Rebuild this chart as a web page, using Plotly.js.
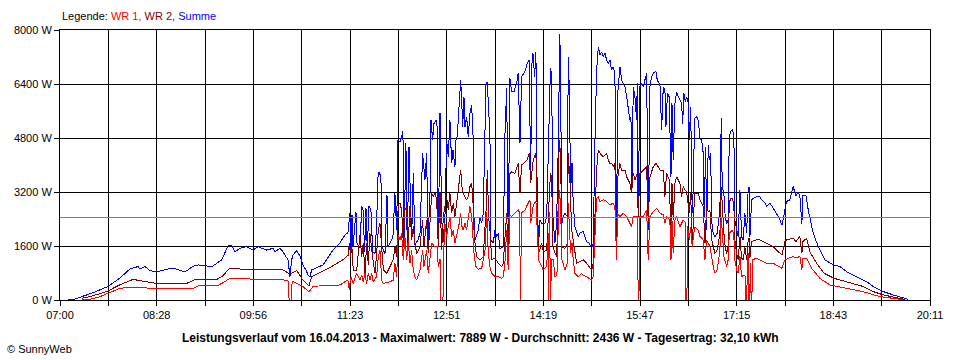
<!DOCTYPE html>
<html><head><meta charset="utf-8">
<script src="https://cdn.plot.ly/plotly-3.0.1.min.js"></script>
<style>html,body{margin:0;padding:0;background:#fff}#chart{width:960px;height:360px}
#chart .scatterlayer path, #chart .shapelayer path{shape-rendering:crispEdges}</style>
</head><body><div id="chart"></div>
<script>
// ---- data (time in minutes after midnight, power in W) ----
const tickLabels = ['07:00','08:28','09:56','11:23','12:51','14:19','15:47','17:15','18:43','20:11'];
const yTicks = [0, 1600, 3200, 4800, 6400, 8000];
const durchschnitt = 2436;

const timeSumme = [
427.3,433.6,439.7,448.8,463.6,474.5,483.6,490.9,492.7,497.3,
501.8,507.9,517,522.7,533.6,540.9,545.5,558.2,567,572.7,
576.1,579.1,583.6,589.7,595.5,600,607.9,613.6,615.5,620,
622.7,624.5,627.3,629.1,630.6,631.8,635.2,638.2,640.9,643.6,
645.5,647.3,648.8,653.6,659.1,668.2,674.5,679.1,681.8,
683.6,684.5,685.5,686.4,689.1,690,692.7,694.3,695.5,697,
698.2,699.4,700.9,702.7,704.3,706.4,707.9,709.1,710,711.8,
712.5,715.5,717.3,718.2,721.5,722.7,724.5,726.1,727.3,729.1,
730.6,731.8,732.7,734.5,735.7,737.3,739.7,741.2,742.7,745.5,
747.3,749.7,751.8,753.4,754.5,756.4,757.3,758.8,760,761.8,
763,763.9,765.5,767,768.2,770,771.5,773,774.5,776.1,
777.3,779.1,780,781.2,783,784.3,785.2,786.1,787.3,788.2,
789.7,791.2,792.7,794.3,795.7,796.4,797.5,800.3,801.8,803.4,
804.8,807.3,808.5,809.7,810.9,811.8,813.9,815.5,817,818.5,
820,823,824.5,826.1,827.5,829.1,830.6,832.7,835.2,836.6,
838.2,839.7,842.7,844.8,846.6,847.9,849.1,850,851.5,852.7,
853.9,855.2,856.4,857.9,860.9,862.5,864.5,865.9,867,868.2,
870,871.5,872.7,873.9,874.5,875.5,876.4,877.5,879.1,881.2,
882.1,883,884.3,885.5,886.6,888.2,891.2,892.7,895.7,898.8,
901.2,903.4,904.8,906.4,907.9,909.4,910.9,912.5,913.9,915.5,
917,918.5,920,921.5,923,924.5,925.5,926.1,926.8,929.1,
930.6,932.1,933.6,935.2,936.6,938.2,939.1,940,941.2,942.7,
944.3,944.8,945.7,947.3,948.8,950.3,951.8,953.4,954.8,956.4,
957.9,959.4,961.8,963,965.5,967,968.5,970,970.9,972.3,
973.9,974.5,975.5,976.4,977.5,979.1,980.6,982.1,983.6,985.2,
986.1,987.3,988.5,989.7,991.2,992.1,993.4,994.8,995.7,997,
998.8,1000.3,1001.8,1003.4,1004.8,1005.7,1007,1007.9,1009.4,1010.3,
1011.5,1012.7,1013.9,1015.5,1017.5,1018.8,1020,1021.2,1022.1,1023.6,
1024.8,1026.1,1027.5,1028.5,1029.7,1031.5,1032.7,1033.6,1035.2,1036.6,
1038.2,1039.7,1041.2,1042.7,1044.3,1045.7,1046.6,1047.3,1048.8,1050.3,
1053.4,1056.4,1057.9,1060.9,1062.5,1065.5,1068.5,1071.5,1073,1074.5,
1076.4,1079.1,1080.6,1083.6,1086.6,1089.1,1090.9,1092.7,1094.5,1095.5,
1098.2,1100.3,1104.8,1109.4,1115.5,1123,1129.1,1135.2,1144.3,1153.4,
1159.4,1168.5,1177.5,1186.6,1191.2];
const summe = [
0,30,100,200,400,650,920,990,920,990,
870,830,910,950,830,1000,1040,990,1190,1600,
1620,1430,1530,1580,1480,1580,1480,1530,1430,1530,
1430,1330,1190,690,1190,1330,1460,1300,1040,890,
740,690,890,960,1040,1480,1690,1930,1990,
2580,1390,2520,1580,2620,1690,1540,2770,2670,1430,
2720,1480,2790,2670,1430,1380,2270,3650,3800,3650,
1580,1380,3110,1580,1780,1880,3170,2070,4740,4690,
4840,4990,1580,4640,1580,4540,1780,3750,1630,1780,
1980,4350,3560,4350,1680,3160,5330,4740,5230,5330,
5130,1630,5530,2470,1690,2470,4740,4250,5330,4050,
4440,3950,4740,4840,5830,6520,5930,5130,6020,5130,
5430,4840,5530,5780,4740,2470,1780,2070,2470,2270,
2570,6370,6470,5630,4840,1780,1680,2070,1880,1980,
1530,1580,4840,6270,1880,6570,6170,6170,6420,6720,
4640,6620,6770,7010,7110,3650,7010,7310,6620,7360,
2870,1680,2370,2270,2270,2470,5040,6870,6670,2470,
1690,2280,4000,7600,7889,5040,2280,2470,2570,2470,
7210,6320,3260,4060,2870,2170,1880,1980,2030,1730,
1680,1530,1680,4740,6810,7500,7260,7350,7210,7310,
7110,7010,7110,6810,6910,6720,1780,1580,6020,6910,
6520,6420,6320,6020,5630,5330,5430,3160,6320,6020,
5330,6420,2770,6320,6420,6320,6520,6720,2070,6320,
6620,6720,6770,6520,6370,5040,6320,6220,5130,6120,
6020,5330,3650,5830,4150,5830,6170,6020,5930,5830,
5230,6120,5880,6020,5830,4740,5730,2570,3260,5380,
5430,5330,4790,4740,4350,2470,4540,2070,4590,4150,
4350,2270,1980,1880,1980,2370,2670,5380,3360,3160,
2470,2270,2370,4840,4990,5040,4840,2370,2070,1880,
3260,1880,1780,2570,1980,3310,3360,1880,2970,3010,
3060,3060,2970,2870,2770,2870,2720,2570,2470,2370,
2220,2670,2920,2970,3360,3080,3200,3080,2250,3100,
3110,2670,1980,1580,1190,1040,990,840,690,540,
400,250,150,70,20];

const timeWr2 = [
439.7,447.3,462.4,474.5,486.4,498.8,507.9,535.2,542.7,562.5,
567,574.5,595.5,613.6,622.7,629.1,635.2,640.9,646.4,648.8,
665.5,677.5,682.1,683,684.3,685.2,686.6,689.7,692.7,694.3,
695.7,697.3,698.8,700.3,701.8,704.3,706.4,707.9,709.4,710.9,
712.5,714,717,720,723,724.5,726.1,727.5,729.1,730.6,
732.1,733.6,735.2,736.6,738.2,739.7,741.2,742.7,744.3,747.3,
749.7,750.9,753.3,754.8,756.4,757.9,759.4,760.9,762.5,763.9,
765.5,767,768.5,771.5,773,774.5,776.1,777.6,779.1,780.6,
783,784.3,785.5,786.6,788.2,789.7,791.2,792.7,794.3,795.7,
796.6,798.8,801.8,804.8,807.3,808.5,809.7,810.9,812.5,815.5,
818.5,821.5,823,824.5,826.1,827.5,829.1,830.6,833.6,836.6,
838.2,839.7,841.2,844.8,846.6,847.9,850.3,852.7,853.9,855.2,
857.9,859.4,862.5,864.5,865.9,867,868.2,869.1,871.5,872.7,
873.9,874.5,875.5,876.4,879.1,881.2,882.1,883.6,885.2,886.6,
888.2,889.7,892.7,895.7,898.8,901.8,903.4,904.8,906.4,907.9,
909.4,910.9,913.9,917,918.5,920,921.5,923,924.5,925.5,
926.1,926.8,929.1,930.6,933.6,935.2,938.2,939.7,941.2,942.7,
944.8,945.7,947.3,950.3,953.4,954.8,956.4,959.4,961.8,963.9,
965.5,968.5,970,971.5,973.9,975.5,976.4,977.5,979.1,980.6,
982.1,983.6,985.2,986.6,988.2,989.7,992.1,993.4,994.8,997,
1000.3,1001.8,1003.4,1004.8,1006.4,1007.9,1009.4,1010.9,1012.5,1013.9,
1015.5,1017.5,1018.8,1020,1021.2,1022.5,1023.6,1024.8,1026.1,1027.5,
1028.5,1029.7,1031.5,1032.7,1033.6,1035.2,1036.6,1038.2,1039.7,1041.2,
1042.7,1044.3,1045.7,1046.6,1047.3,1048.8,1053.4,1056.4,1059.4,1062.5,
1065.5,1068.5,1071.5,1074.5,1076.4,1079.1,1080.6,1086.6,1089.1,1092.7,
1094.5,1095.5,1098.8,1101.8,1107.9,1114.8,1123.9,1135.2,1150.3,1159.4,
1168.5,1180.6,1188.2];
const wr2 = [
50,100,250,450,610,540,490,490,610,610,
690,940,890,910,890,770,870,590,420,690,
960,1200,1330,1680,1280,1680,890,860,1930,1280,
1680,790,1680,1040,1980,1240,790,1380,2070,2270,
1380,890,790,990,1190,1580,1280,2820,2870,2670,
1680,2670,2770,1680,2770,1780,2180,1680,1380,1580,
2370,1580,2370,1380,2470,3160,3060,3160,2970,1580,
3160,1480,2470,3060,2670,3160,2570,2870,2470,2870,
3560,3850,3360,3160,3060,2970,3060,3360,3460,2770,
1880,1280,1180,1280,2620,3850,2470,2070,1190,1240,
1090,990,1090,1680,2570,1190,3750,3800,3750,4050,
3160,4000,4050,4150,4350,3460,4150,4350,2620,1380,
1680,1430,1480,2870,3750,3650,1580,1480,1280,2470,
4740,4640,3460,1580,1530,1680,4350,3560,2070,1780,
1380,1090,1140,1190,1090,940,890,1090,2470,3850,
4440,4350,4250,4350,4150,4050,4050,3950,4050,1480,
1290,3560,4050,3850,3850,3650,3460,3160,3750,3560,
3750,2470,3750,3850,3950,2270,3650,3950,4050,3950,
3850,3850,3060,3750,3560,1980,3460,2370,3460,3650,
3560,3460,3060,3360,3260,3210,2570,3160,1580,3160,
3160,2970,2870,2770,1680,2770,2620,2670,1780,1580,
1380,1480,1780,1980,3360,2370,1980,1580,1380,1580,
2870,3010,3010,2770,1780,1380,1190,1880,1240,1190,
1580,1190,1780,1830,1240,1730,1780,1780,1730,1680,
1630,1580,1480,1380,1330,1730,1780,1830,1730,1880,
1380,1730,1830,1430,1090,790,640,540,400,250,
150,70,20];

const timeWr1 = [
439.7,447.3,456.4,465.5,474.5,483.6,507.9,540.9,545.5,562.5,
567,574.5,601.8,626.1,627.7,628.3,630.3,631,631.8,640.9,
646.4,650,656.4,674.5,679.1,681.8,683,684.3,686.6,689.7,
692.7,694.3,695.7,697.3,698.8,700.3,701.8,703.4,704.8,707.9,
709.4,710.9,712.5,714,720,723,724.5,726.1,727.5,729.1,
730.6,732.1,733.6,735.2,736.6,738.2,739.7,741.2,742.7,744.3,
747.3,749.7,750.9,753.3,754.8,756.4,757.9,760.9,763,763.9,
765.5,766.4,768.2,768.8,770,771.5,774.5,776.1,777.6,779.1,
780.6,783,784.3,785.5,786.6,788.2,789.7,791.2,792.7,794.3,
795.7,796.6,798.2,800.3,803.4,806.4,808,809.4,810.9,812.5,
815.5,818.5,821.5,823,824.5,826.1,827.5,829.1,830.6,833.6,
836.6,837.7,838.2,838.8,839.5,842.7,845.7,847.3,847.9,850.3,
852.7,853.9,855.2,857.9,859.4,862.5,864,864.3,864.9,866.1,
866.8,868.5,870,871.8,873.9,875,876.4,879.1,881.2,882.1,
883,884.3,885.5,886.6,888.2,891.2,894.3,895.7,898.8,901.8,
903.4,904.8,906.4,907.9,909.4,910.9,913.9,917,920,923,
924.5,925.5,926.1,926.8,929.1,932.1,935.2,938.2,939.7,941.2,
944.3,945.3,945.6,946.4,946.8,950.3,953.4,954.8,956.4,959.4,
962.5,965.5,968.5,970,971.5,974.5,975.5,976.4,977.5,979.1,
980.6,983.6,986.6,988.6,989.1,990,990.5,992.1,993.4,994.8,
997,1000.3,1001.8,1004.8,1006.4,1007.9,1010.9,1012.5,1013.9,1015.5,
1017.5,1018.8,1020,1021.2,1022.5,1023.6,1026.1,1027.5,1028.5,1031.5,
1032.7,1033.6,1035.2,1036.6,1038.2,1039.7,1041.8,1043.2,1043.6,1044.4,
1045,1045.7,1046.4,1047.1,1047.7,1048.4,1049.1,1049.5,1053.4,1056.4,
1062.5,1068.5,1071.5,1074.5,1076.4,1079.1,1086.6,1089.1,1092.7,1094.5,
1095.5,1098.8,1103.4,1110.9,1120,1135.2,1150.3,1165.5,1180.6,1186.6];
const wr1 = [
0,20,100,215,345,375,345,345,415,415,
490,640,620,590,560,0,0,520,545,395,
245,395,420,445,540,590,300,690,490,790,
590,740,540,790,490,790,590,790,540,690,
1290,1480,590,490,540,590,1090,690,1930,1780,
1980,1190,1880,1190,1780,1090,1480,890,690,590,
890,1480,990,1480,790,1290,1680,1580,1580,990,
1200,0,0,1380,2270,1880,2470,1880,2070,1680,
1880,2270,2570,2180,2070,2270,2070,2370,2770,2470,
1880,1290,990,910,940,1480,2620,1380,990,790,
690,690,640,690,1090,2070,890,2520,2470,2570,
2670,2600,0,0,2570,2670,2870,2970,2270,2820,
2920,1980,1190,990,890,990,1980,0,2600,0,
1190,1190,690,740,3260,2870,1190,890,1090,2870,
2270,1390,1690,1190,790,690,790,740,690,640,
590,690,2070,3010,3060,2920,2970,2920,2820,2870,
2770,1190,1190,2570,2470,2570,2470,2270,2170,2470,
2470,2470,0,0,2470,2470,2670,1190,2470,2620,
2720,2570,2520,2270,2470,2370,1190,2370,1390,2370,
2470,2170,2370,2300,0,0,2200,1780,2170,1580,
2170,2070,1880,1780,1190,1780,1590,1190,990,790,
890,1190,1480,2470,1580,1290,990,1190,1980,2070,
1880,1190,890,790,1290,690,740,700,0,0,
1090,1400,0,0,1090,0,0,1190,1240,1190,
1090,1090,1040,990,940,1190,1290,1240,1290,890,
1240,1240,940,640,445,345,245,100,40,10];

// ---- chart ----
const FONT = '"Liberation Sans", Arial, sans-serif';
function toMin(s){ const p = s.split(':').map(Number); return p[0]*60 + p[1]; }
const tStart = toMin(tickLabels[0]);
const tEnd = toMin(tickLabels[tickLabels.length-1]);
const nInt = (tickLabels.length - 1) * 2;
const xTickVals = [], xTickText = [];
for (let i = 0; i <= nInt; i++) {
  xTickVals.push(tStart + i * (tEnd - tStart) / nInt);
  xTickText.push(i % 2 === 0 ? tickLabels[i/2] : '');
}

const traces = [
  {x: timeSumme, y: summe, type: 'scatter', mode: 'lines', line: {color: '#0000ff', width: 1}, name: 'Summe'},
  {x: timeWr2, y: wr2, type: 'scatter', mode: 'lines', line: {color: '#800000', width: 1}, name: 'WR 2'},
  {x: timeWr1, y: wr1, type: 'scatter', mode: 'lines', line: {color: '#ff0000', width: 1}, name: 'WR 1'}
];

const layout = {
  width: 960, height: 360,
  margin: {l: 60, r: 30, t: 30, b: 60, pad: 0},
  paper_bgcolor: '#ffffff', plot_bgcolor: '#ffffff',
  showlegend: false,
  font: {family: FONT, size: 11, color: '#000000'},
  xaxis: {
    range: [tStart, tEnd], tickmode: 'array', tickvals: xTickVals, ticktext: xTickText,
    ticks: 'outside', ticklen: 5, tickwidth: 1, tickcolor: '#000',
    showgrid: true, gridcolor: '#000', gridwidth: 1,
    showline: true, linecolor: '#000', linewidth: 1, mirror: true, zeroline: false,
    tickfont: {family: FONT, size: 11, color: '#000'}, fixedrange: true
  },
  yaxis: {
    range: [0, 8000], tickmode: 'array', tickvals: yTicks, ticktext: yTicks.map(v => v + ' W'),
    ticks: 'outside', ticklen: 5, tickwidth: 1, tickcolor: '#000',
    showgrid: true, gridcolor: '#000', gridwidth: 1,
    showline: true, linecolor: '#000', linewidth: 1, mirror: true, zeroline: false,
    tickfont: {family: FONT, size: 11, color: '#000'}, fixedrange: true
  },
  shapes: [
    {type: 'line', xref: 'paper', x0: 0, x1: 1, yref: 'y', y0: durchschnitt, y1: durchschnitt,
     line: {color: '#808080', width: 1}, layer: 'above'}
  ],
  annotations: [
    {xref: 'paper', yref: 'paper', x: 0, y: 1.052, xanchor: 'left', yanchor: 'middle', showarrow: false,
     text: 'Legende: <span style="color:#ff0000">WR 1,</span> <span style="color:#800000">WR 2,</span> <span style="color:#0000ff">Summe</span>',
     font: {family: FONT, size: 11, color: '#000'}},
    {xref: 'paper', yref: 'paper', x: 0.4828, y: -0.1407, xanchor: 'center', yanchor: 'middle', showarrow: false,
     text: '<b>Leistungsverlauf vom 16.04.2013 - Maximalwert: 7889 W - Durchschnitt: 2436 W - Tagesertrag: 32,10 kWh</b>',
     font: {family: FONT, size: 12, color: '#000'}},
    {xref: 'paper', yref: 'paper', x: -0.0632, y: -0.1815, xanchor: 'left', yanchor: 'middle', showarrow: false,
     text: '© SunnyWeb', font: {family: FONT, size: 11, color: '#000'}}
  ]
};

Plotly.newPlot('chart', traces, layout, {staticPlot: true, displayModeBar: false});
</script></body></html>
